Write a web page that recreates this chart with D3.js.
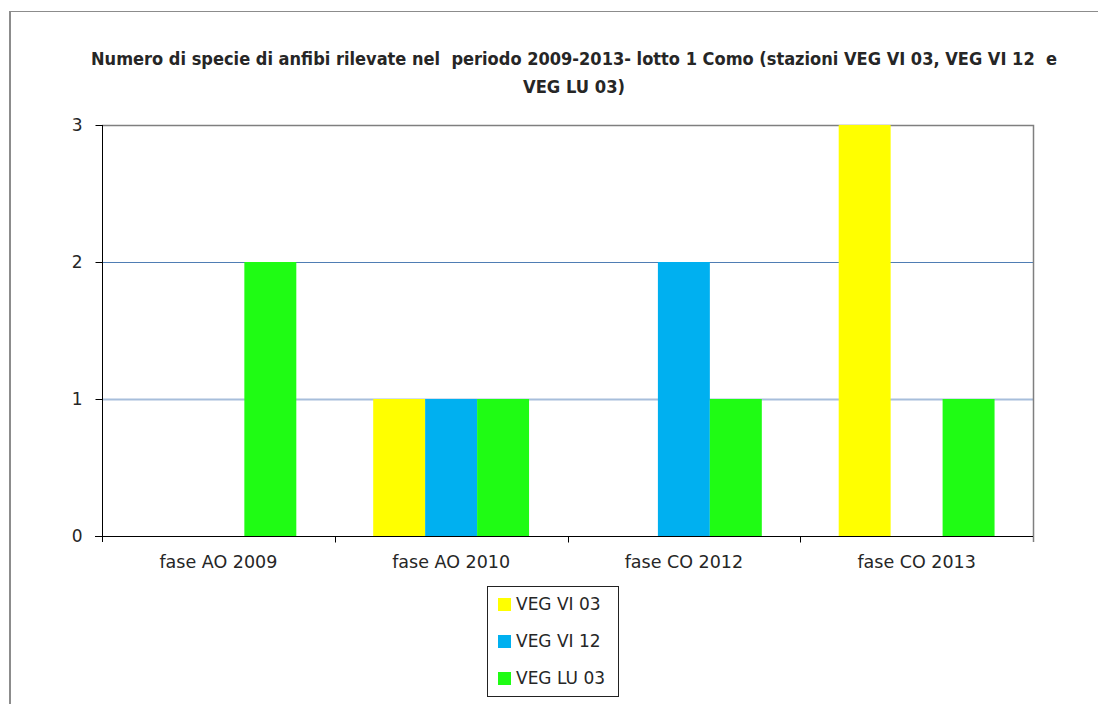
<!DOCTYPE html>
<html>
<head>
<meta charset="utf-8">
<script src="https://cdn.jsdelivr.net/npm/d3@7"></script>
<style>
    body{margin:0;background:#fff;}
    svg{display:block;}
    text{font-family:"DejaVu Sans",sans-serif;fill:#262626;}
</style>
</head>
<body>
<div id="chart"></div>
<script>
// data
var categories = ["fase AO 2009","fase AO 2010","fase CO 2012","fase CO 2013"];
var seriesNames = ["VEG VI 03","VEG VI 12","VEG LU 03"];
var vegVi03 = [0,1,0,3];
var vegVi12 = [0,1,2,0];
var vegLu03 = [2,1,1,1];
var yTicks = [0,1,2,3];
var titleLines = [
    "Numero di specie di anfibi rilevate nel  periodo 2009-2013- lotto 1 Como (stazioni VEG VI 03, VEG VI 12  e",
    "VEG LU 03)"
];

(function(){

    var colors = ["#ffff00","#00b0f0","#1ffc14"];

    function createChart(){
        var svg = d3.select("#chart").append("svg")
            .attr("width",1098)
            .attr("height",704);

        //outer chart frame
        svg.append("rect")
            .attr("x",9.5).attr("y",11.5)
            .attr("width",1100).attr("height",710)
            .attr("fill","none")
            .attr("stroke","#8c8c8c")
            .attr("stroke-width",1);
        svg.append("line")
            .attr("x1",10).attr("x2",10)
            .attr("y1",11).attr("y2",704)
            .attr("stroke","#8c8c8c")
            .attr("stroke-width",2);

        addTitle(svg);

        var left = 102, right = 1033, top = 125, bottom = 536;

        var x0 = d3.scaleBand()
            .domain(categories)
            .range([left,right])
            .paddingInner(0)
            .paddingOuter(0);
        //outer padding is in step units: 3 bars of ~52px inside a ~233px category
        var x1 = d3.scaleBand()
            .domain(seriesNames)
            .range([0,x0.bandwidth()])
            .paddingInner(0)
            .paddingOuter(0.74);
        var y = d3.scaleLinear()
            .domain([0,3])
            .range([bottom,top]);

        //gridlines (2 is darker than 1 in the original)
        var g = svg.append("g");
        g.selectAll(".grid")
            .data([1,2])
            .enter()
            .append("line")
            .attr("x1",left).attr("x2",right)
            .attr("y1",function(d){return y(d)+0.5})
            .attr("y2",function(d){return y(d)+0.5})
            .attr("stroke",function(d){return d === 2 ? "#4f7db4" : "#a7bedb"})
            .attr("stroke-width",function(d){return d === 2 ? 1 : 2});

        //plot area border top + right
        g.append("path")
            .attr("d","M" + left + "," + (y(3)+0.5) + "H" + (right+0.5) + "V" + (bottom+6))
            .attr("fill","none")
            .attr("stroke","#7f7f7f")
            .attr("stroke-width",1.5);

        var table = categories.map(function(c,i){
            return {cat:c, values:[vegVi03[i],vegVi12[i],vegLu03[i]]};
        });

        var groups = svg.append("g").selectAll(".cat")
            .data(table)
            .enter()
            .append("g")
            .attr("transform",function(d){return "translate(" + x0(d.cat) + ",0)"});

        groups.selectAll("rect")
            .data(function(d){
                return d.values.map(function(v,j){return {name:seriesNames[j],value:v,idx:j}});
            })
            .enter()
            .append("rect")
            .attr("x",function(d){return x1(d.name)})
            .attr("width",x1.bandwidth())
            .attr("y",function(d){return y(d.value)})
            .attr("height",function(d){return bottom - y(d.value)})
            .attr("fill",function(d){return colors[d.idx]});

        //y axis
        var yAxis = d3.axisLeft(y)
            .tickValues(yTicks)
            .tickSize(7)
            .tickPadding(13)
            .tickFormat(d3.format("d"));
        var ya = svg.append("g")
            .attr("transform","translate(" + (left+0.5) + ",0)")
            .call(yAxis);
        ya.select(".domain").attr("stroke","#000").attr("d","M0," + top + "V" + (bottom+6));
        ya.selectAll(".tick line").attr("stroke","#000");
        ya.selectAll(".tick text")
            .attr("font-size","17px")
            .attr("fill","#262626")
            .style("font-family","DejaVu Sans");

        //x axis with ticks between categories
        var xa = svg.append("g")
            .attr("transform","translate(0," + (bottom+0.5) + ")");
        xa.append("line")
            .attr("x1",left-7).attr("x2",right)
            .attr("stroke","#000");
        xa.selectAll(".xtick")
            .data(categories.slice(1))
            .enter()
            .append("line")
            .attr("x1",function(d){return Math.round(x0(d))+0.5})
            .attr("x2",function(d){return Math.round(x0(d))+0.5})
            .attr("y1",0).attr("y2",6)
            .attr("stroke","#000");
        xa.selectAll(".xlabel")
            .data(categories)
            .enter()
            .append("text")
            .attr("x",function(d){return x0(d) + x0.bandwidth()/2})
            .attr("y",31)
            .attr("text-anchor","middle")
            .attr("font-size","17.5px")
            .text(function(d){return d});

        addLegend(svg);
    };

    function addTitle(svg){
        var widths = [966,102];
        svg.selectAll(".title")
            .data(titleLines)
            .enter()
            .append("text")
            .attr("x",574)
            .attr("y",function(d,i){return 65 + i*28})
            .attr("text-anchor","middle")
            .attr("font-size","17px")
            .attr("font-weight","bold")
            .attr("textLength",function(d,i){return widths[i]})
            .attr("lengthAdjust","spacingAndGlyphs")
            .style("font-family","DejaVu Sans Condensed, DejaVu Sans")
            .style("white-space","pre")
            .attr("fill","#000")
            .text(function(d){return d});
    };

    function addLegend(svg){
        var lg = svg.append("g").attr("transform","translate(487,586)");
        lg.append("rect")
            .attr("x",0.5).attr("y",0.5)
            .attr("width",131).attr("height",110)
            .attr("fill","#fff")
            .attr("stroke","#222");
        var items = lg.selectAll(".item")
            .data(seriesNames)
            .enter()
            .append("g")
            .attr("transform",function(d,i){return "translate(0," + (18 + i*37) + ")"});
        items.append("rect")
            .attr("x",11).attr("y",-6)
            .attr("width",13).attr("height",13)
            .attr("fill",function(d,i){return colors[i]});
        items.append("text")
            .attr("x",29)
            .attr("y",0)
            .attr("dy","0.36em")
            .attr("font-size","17px")
            .text(function(d){return d});
    };

    createChart();
})();
</script>
</body>
</html>
